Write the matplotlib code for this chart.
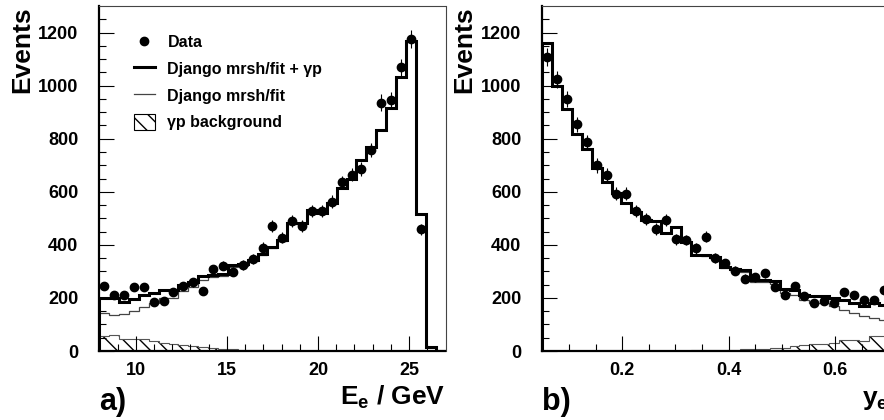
import numpy as np
import matplotlib
matplotlib.use('Agg')
import matplotlib.pyplot as plt
from matplotlib.lines import Line2D
from matplotlib.patches import Patch

plt.rcParams['font.family'] = ['Liberation Sans', 'DejaVu Sans']
plt.rcParams['font.weight'] = 'bold'
plt.rcParams['mathtext.fontset'] = 'custom'
plt.rcParams['mathtext.rm'] = 'Liberation Sans:bold'
plt.rcParams['mathtext.bf'] = 'Liberation Sans:bold'
plt.rcParams['mathtext.it'] = 'Liberation Sans:bold'
plt.rcParams['hatch.linewidth'] = 1.0

# a) scattered electron energy, 35 bins 8..27 GeV
ee_edges = np.linspace(8, 27, 36)
ee_data = [246, 211, 211, 240, 240, 185, 190, 222, 246, 259, 227, 308, 322, 298,
           325, 348, 390, 471, 427, 489, 471, 529, 529, 563, 635, 665, 686, 758,
           936, 944, 1069, 1176, 459]
ee_sig = [142, 136, 140, 150, 165, 180, 198, 200, 227, 242, 267, 277, 281, 317,
          321, 339, 361, 389, 416, 480, 480, 531, 519, 557, 613, 647, 720, 768,
          832, 915, 1034, 1167, 515, 15, 0]
ee_bg = [58, 62, 46, 47, 45, 38, 32, 28, 22, 18, 14, 10, 8, 7, 5, 4, 3, 3, 2, 2,
         1, 1, 1, 1, 0, 0, 0, 0, 0, 0, 0, 0, 0, 0, 0]

# b) y from electron, 35 bins 0.05..0.70
ye_edges = np.linspace(0.05, 0.70, 36)
ye_data = [1107, 1024, 950, 854, 787, 699, 663, 592, 592, 528, 498, 460, 494, 421,
           418, 387, 430, 349, 330, 303, 273, 278, 293, 243, 211, 246, 207, 180,
           190, 180, 224, 212, 192, 192, 230]
ye_sig = [1162, 1000, 911, 818, 763, 689, 637, 597, 559, 525, 493, 491, 446, 466,
          409, 360, 358, 352, 312, 304, 297, 260, 260, 252, 220, 211, 191, 182,
          181, 169, 153, 142, 132, 125, 117]
ye_bg = [0, 0, 0, 0, 0, 0, 0, 0, 0, 0, 0, 0, 0, 0, 1, 2, 2, 3, 3, 4, 8, 8, 6, 10,
         12, 19, 21, 25, 26, 31, 40, 40, 38, 57, 56]

HATCH = '\\\\'


def panel(ax, edges, data, sig, bg):
    sig = np.array(sig, float)
    bg = np.array(bg, float)
    data = np.array(data, float)
    centers = 0.5 * (edges[:-1] + edges[1:])[:len(data)]
    ax.stairs(bg, edges, fill=True, facecolor='none', edgecolor='black',
              hatch=HATCH, linewidth=0)
    ax.stairs(bg, edges, color='#555555', linewidth=0.8)
    ax.stairs(sig, edges, color='#444444', linewidth=0.9)
    ax.stairs(sig + bg, edges, color='black', linewidth=2.2)
    ax.errorbar(centers, data, yerr=np.sqrt(data), fmt='o', color='black',
                markersize=6, elinewidth=0.8, capsize=0)
    ax.set_xlim(edges[0], edges[-1])
    ax.set_ylim(0, 1300)
    ax.set_yticks(np.arange(0, 1201, 200))
    ax.set_yticks(np.arange(0, 1300, 50), minor=True)
    ax.tick_params(which='both', direction='in', top=False, right=False,
                   labelsize=13, width=0.8)
    ax.tick_params(which='major', length=11)
    ax.tick_params(which='minor', length=5)
    ax.tick_params(axis='y', pad=15)
    ax.tick_params(axis='x', pad=8)
    for lab in ax.get_xticklabels() + ax.get_yticklabels():
        lab.set_fontweight('bold')
    for s in ('left', 'bottom'):
        ax.spines[s].set_linewidth(1.6)
    for s in ('top', 'right'):
        ax.spines[s].set_linewidth(0.8)
        ax.spines[s].set_color('#444444')


fig = plt.figure(figsize=(8.84, 4.2), dpi=100)
W, H = 884.0, 420.0
ax1 = fig.add_axes([99.3 / W, 69 / H, 346.2 / W, 345 / H])
ax2 = fig.add_axes([542.3 / W, 69 / H, 346.2 / W, 345 / H])

panel(ax1, ee_edges, ee_data, ee_sig, ee_bg)
ax1.set_xticks([10, 15, 20, 25])
ax1.set_xticks(np.arange(9, 27, 1), minor=True)

panel(ax2, ye_edges, ye_data, ye_sig, ye_bg)
ax2.set_xticks([0.2, 0.4, 0.6])
ax2.set_xticklabels(['0.2', '0.4', '0.6'])
ax2.set_xticks(np.arange(0.1, 0.7, 0.05), minor=True)
for lab in ax2.get_xticklabels():
    lab.set_fontweight('bold')

handles = [Line2D([], [], marker='o', ls='none', color='black', markersize=6),
           Line2D([], [], color='black', lw=2.2),
           Line2D([], [], color='#444444', lw=0.9),
           Patch(facecolor='white', edgecolor='black', hatch=HATCH, lw=0.8)]
labels = ['Data', 'Django mrsh/fit + γp', 'Django mrsh/fit', 'γp background']
ax1.legend(handles, labels, loc='upper left', bbox_to_anchor=(0.1, 0.918),
           frameon=False, prop={'size': 11.5, 'weight': 'bold'},
           handlelength=1.3, handletextpad=0.8, labelspacing=0.66,
           handleheight=1.1, borderpad=0, borderaxespad=0)

for x in (22, 464):
    fig.text(x / W, 1 - 6 / H, 'Events', rotation=90, ha='center', va='top',
             fontsize=19, fontweight='bold')
ax1.text(1.0, -0.157, r'E$_\mathbf{e}$ / GeV', transform=ax1.transAxes,
         ha='right', va='baseline', fontsize=19, fontweight='bold')
ax2.text(1.0, -0.157, r'y$_\mathbf{e}$', transform=ax2.transAxes,
         ha='right', va='baseline', fontsize=19, fontweight='bold')
ax1.text(0.0, -0.172, 'a)', transform=ax1.transAxes, ha='left', va='baseline',
         fontsize=22, fontweight='bold')
ax2.text(0.0, -0.172, 'b)', transform=ax2.transAxes, ha='left', va='baseline',
         fontsize=22, fontweight='bold')

fig.savefig('out.png', dpi=100)
